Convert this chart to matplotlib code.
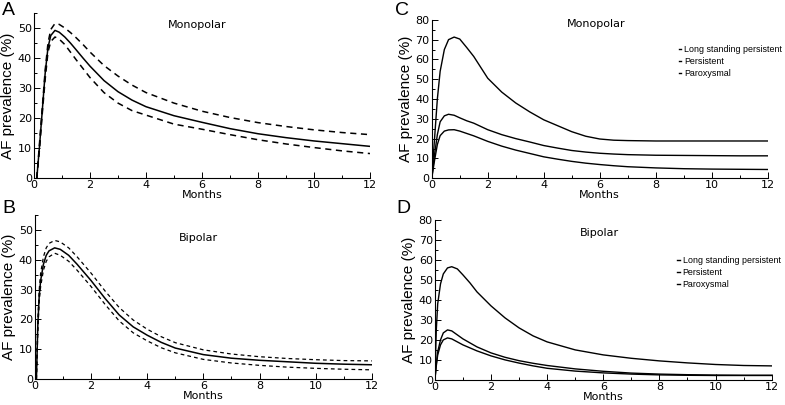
import matplotlib
matplotlib.use("Agg")
import matplotlib.pyplot as plt
from matplotlib.ticker import MultipleLocator

# panel A - monopolar, mean with dashed bounds
months_a = [0.1, 0.2, 0.3, 0.4, 0.5, 0.6, 0.75, 0.9, 1.1, 1.3, 1.5, 1.75, 2, 2.5, 3, 3.5, 4, 5, 6, 7, 8, 9, 10, 11, 12]
mono_mean = [0, 11, 23, 35, 43.5, 47.5, 49.2, 48.6, 47, 45, 42.8, 40, 37.3, 32.5, 28.8, 26, 23.8, 20.8, 18.6, 16.5, 14.8, 13.5, 12.4, 11.5, 10.6]
mono_upper = [0, 12, 24, 36, 45, 49.5, 51.5, 51.2, 50, 48.5, 46.8, 44.5, 42, 37.5, 34, 31, 28.5, 25, 22.3, 20.2, 18.5, 17.2, 16.1, 15.2, 14.5]
mono_lower = [0, 10, 22, 33, 42, 45.5, 47, 46.3, 44.5, 42, 39.5, 36.5, 33.5, 28.5, 25, 22.5, 21, 18, 16.3, 14.5, 12.8, 11.4, 10.2, 9.1, 8.2]

# panel B - bipolar
months_b = [0.05, 0.1, 0.15, 0.2, 0.3, 0.4, 0.5, 0.7, 0.9, 1.2, 1.5, 2, 2.5, 3, 3.5, 4, 4.5, 5, 6, 7, 8, 9, 10, 11, 12]
bip_mean = [0, 18, 28, 33, 38.5, 41.5, 43, 44, 43.5, 41.5, 38.5, 33, 27, 21.5, 17.5, 14.7, 12.3, 10.4, 8.2, 7, 6.3, 5.8, 5.3, 5, 4.8]
bip_upper = [0, 20, 30, 35.5, 41, 44, 45.5, 46.5, 46, 44, 41, 35.5, 29.5, 24, 19.8, 16.7, 14.2, 12.2, 9.8, 8.4, 7.5, 6.9, 6.5, 6.2, 6.1]
bip_lower = [0, 16, 26, 31, 36.5, 39.5, 41, 42.2, 41.5, 39.5, 36.5, 31, 25, 19.5, 15.5, 12.8, 10.5, 8.8, 6.6, 5.4, 4.6, 4, 3.6, 3.3, 3.1]

# panel C - monopolar by AF type
months_c = [0, 0.1, 0.2, 0.3, 0.45, 0.6, 0.8, 1.0, 1.25, 1.5, 2, 2.5, 3, 3.5, 4, 4.5, 5, 5.5, 6, 6.5, 7, 8, 9, 10, 11, 12]
c_long = [0, 20, 40, 54, 65, 70, 71.3, 70.3, 66, 61.5, 50.5, 43.5, 38, 33.5, 29.5, 26.5, 23.5, 21.2, 19.8, 19.2, 19, 18.8, 18.8, 18.8, 18.8, 18.8]
c_pers = [0, 12, 22, 28.5, 31.5, 32.3, 31.8, 30.5, 29, 27.8, 24.5, 22, 20, 18.3, 16.5, 15.2, 14, 13.2, 12.6, 12.2, 11.9, 11.6, 11.5, 11.4, 11.3, 11.3]
c_parox = [0, 9, 17, 21.5, 23.8, 24.4, 24.5, 23.8, 22.6, 21.4, 18.6, 16.2, 14.2, 12.5, 10.8, 9.6, 8.5, 7.6, 6.9, 6.3, 5.8, 5.2, 4.8, 4.6, 4.5, 4.4]

# panel D - bipolar by AF type
months_d = [0, 0.05, 0.1, 0.2, 0.3, 0.45, 0.6, 0.8, 1.0, 1.25, 1.5, 2, 2.5, 3, 3.5, 4, 5, 6, 7, 8, 9, 10, 11, 12]
d_long = [0, 25, 38, 48, 53, 56, 56.6, 55.5, 52.5, 48.5, 44, 37, 31, 26, 22, 19, 15, 12.5, 10.8, 9.5, 8.5, 7.7, 7.2, 7.0]
d_pers = [0, 8, 14, 20, 23.5, 25, 24.5, 22.5, 20.5, 18.5, 16.5, 13.5, 11.3, 9.6, 8.3, 7.2, 5.5, 4.3, 3.4, 2.9, 2.6, 2.4, 2.3, 2.3]
d_parox = [0, 7, 12.5, 17.5, 20, 21, 20.5, 19, 17.5, 16, 14.5, 12, 10, 8.4, 7, 5.8, 4.4, 3.5, 2.9, 2.5, 2.3, 2.2, 2.2, 2.2]

type_labels = ["Long standing persistent", "Persistent", "Paroxysmal"]

SANS = ["Liberation Sans", "DejaVu Sans"]


def style_axes(ax, ymax, ymajor):
    for s in ("top", "right"):
        ax.spines[s].set_visible(False)
    ax.spines["left"].set_linewidth(0.8)
    ax.spines["bottom"].set_linewidth(0.8)
    ax.set_xlim(0, 12)
    ax.set_ylim(0, ymax)
    ax.xaxis.set_major_locator(MultipleLocator(2))
    ax.xaxis.set_minor_locator(MultipleLocator(1))
    ax.yaxis.set_major_locator(MultipleLocator(ymajor))
    ax.yaxis.set_minor_locator(MultipleLocator(ymajor / 2))
    ax.tick_params(which="both", direction="in", labelsize=8, width=0.7)
    ax.tick_params(axis="x", pad=1.5)
    ax.tick_params(axis="y", pad=1.5)
    ax.tick_params(which="major", length=4)
    ax.tick_params(which="minor", length=2)
    ax.set_xlabel("Months", fontsize=8, labelpad=0)
    ax.set_ylabel("AF prevalence (%)", fontsize=11, family=SANS, labelpad=2)


fig = plt.figure(figsize=(7.85, 4.05), dpi=100)
ax_a = fig.add_axes([0.0433, 0.560, 0.428, 0.408])
ax_b = fig.add_axes([0.0446, 0.064, 0.429, 0.405])
ax_c = fig.add_axes([0.550, 0.560, 0.428, 0.391])
ax_d = fig.add_axes([0.554, 0.062, 0.429, 0.395])

ax_a.plot(months_a, mono_mean, color="black", lw=1.1)
ax_a.plot(months_a, mono_upper, color="black", lw=1.1, ls=(0, (4, 3)))
ax_a.plot(months_a, mono_lower, color="black", lw=1.1, ls=(0, (4, 3)))
style_axes(ax_a, 55, 10)
ax_a.text(0.485, 0.93, "Monopolar", transform=ax_a.transAxes, ha="center", va="center", fontsize=8)

ax_b.plot(months_b, bip_mean, color="black", lw=1.1)
ax_b.plot(months_b, bip_upper, color="black", lw=0.9, ls=(0, (3, 2.5)))
ax_b.plot(months_b, bip_lower, color="black", lw=0.9, ls=(0, (3, 2.5)))
style_axes(ax_b, 55, 10)
ax_b.text(0.485, 0.86, "Bipolar", transform=ax_b.transAxes, ha="center", va="center", fontsize=8)

for ax, xs, series, title, ty in [
    (ax_c, months_c, [c_long, c_pers, c_parox], "Monopolar", 0.975),
    (ax_d, months_d, [d_long, d_pers, d_parox], "Bipolar", 0.92),
]:
    for ys, lab in zip(series, type_labels):
        ax.plot(xs, ys, color="black", lw=1.0, label=lab)
    style_axes(ax, 80, 10)
    ax.yaxis.set_minor_locator(MultipleLocator(5))
    ax.text(0.49, ty, title, transform=ax.transAxes, ha="center", va="center", fontsize=8)

leg_kw = dict(loc="upper left", frameon=False, handlelength=0.25, handletextpad=0.35,
              labelspacing=0.35, borderpad=0, borderaxespad=0,
              prop={"family": SANS, "size": 6.4})
ax_c.legend(bbox_to_anchor=(0.735, 0.84), **leg_kw)
ax_d.legend(bbox_to_anchor=(0.72, 0.775), **leg_kw)

for lab, x, y in [("A", 0.003, 0.975), ("B", 0.003, 0.485), ("C", 0.503, 0.975), ("D", 0.505, 0.485)]:
    fig.text(x, y, lab, fontsize=14, family=SANS, va="center", ha="left")

fig.savefig("out.png", dpi=100)
